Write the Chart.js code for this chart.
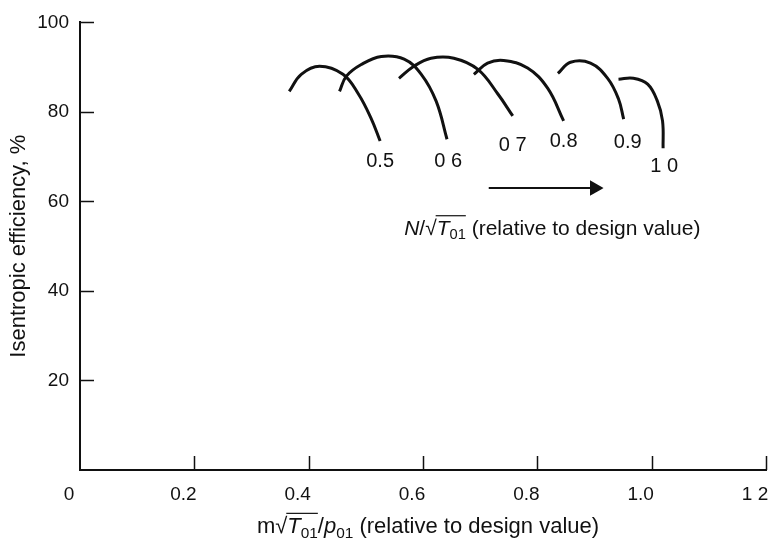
<!DOCTYPE html>
<html>
<head>
<meta charset="utf-8">
<script src="https://cdn.jsdelivr.net/npm/chart.js@4.4.1/dist/chart.umd.min.js"></script>
<style>
  html, body { margin: 0; padding: 0; background: #fff; }
  #wrap { width: 782px; height: 554px; }
</style>
</head>
<body>
<div id="wrap"><canvas id="myChart"></canvas></div>
<script>
// speed lines (x = mass flow rel. design, y = efficiency %)
let speedLabels = ['0.5', '0 6', '0 7', '0.8', '0.9', '1 0'];
let flow05 = [0.366, 0.387, 0.419, 0.460, 0.487, 0.509, 0.525];
let eff05  = [84.6, 88.4, 90.2, 88.4, 84.0, 78.6, 73.5];
let flow06 = [0.454, 0.466, 0.492, 0.527, 0.567, 0.597, 0.623, 0.642];
let eff06  = [84.6, 88.0, 90.6, 92.4, 91.8, 88.4, 82.4, 73.9];
let flow07 = [0.558, 0.584, 0.614, 0.654, 0.696, 0.731, 0.757];
let eff07  = [87.5, 90.2, 92.0, 92.0, 89.5, 84.0, 79.1];
let flow08 = [0.689, 0.713, 0.741, 0.783, 0.818, 0.846];
let eff08  = [88.4, 90.9, 91.5, 89.8, 85.3, 78.0];
let flow09 = [0.836, 0.858, 0.893, 0.923, 0.942, 0.951];
let eff09  = [88.6, 91.1, 90.9, 87.5, 82.9, 78.4];
let flow10 = [0.942, 0.968, 0.993, 1.010, 1.019, 1.020];
let eff10  = [87.3, 87.5, 86.2, 82.4, 78.0, 71.9];

let labelX = [0.525, 0.644, 0.757, 0.846, 0.958, 1.022];
let labelY = [69.0, 69.0, 72.4, 73.5, 73.1, 67.8];

let arrowX = [0.715, 0.900];
let arrowY = [63, 63];

let xTicks = [0, 0.2, 0.4, 0.6, 0.8, 1.0, 1.2];
let xTickLabels = ['0', '0.2', '0.4', '0.6', '0.8', '1.0', '1 2'];
let yTicks = [20, 40, 60, 80, 100];

let FONT = '"Liberation Sans", Arial, Helvetica, sans-serif';
let INK = '#111';

function pts(xs, ys) {
	let out = [];
	for (let i = 0; i < xs.length; i++) out.push({ x: xs[i], y: ys[i] });
	return out;
}

function curve(xs, ys) {
	return {
		data: pts(xs, ys),
		borderColor: INK,
		borderWidth: 3,
		pointRadius: 0,
		tension: 0.4,
		fill: false
	};
}

// text made of pieces: italic, subscript, overline (for the root sign)
function richText(ctx, parts, x, y, size, align) {
	let widths = [];
	let total = 0;
	for (let p of parts) {
		let s = p.sub ? size * 0.7 : size;
		ctx.font = (p.it ? 'italic ' : '') + s + 'px ' + FONT;
		let w = ctx.measureText(p.t).width;
		widths.push(w);
		total += w;
	}
	let cx = align == 'center' ? x - total / 2 : x;
	let overStart = null, overEnd = null;
	ctx.fillStyle = INK;
	ctx.textBaseline = 'middle';
	ctx.textAlign = 'left';
	for (let i = 0; i < parts.length; i++) {
		let p = parts[i];
		let s = p.sub ? size * 0.7 : size;
		ctx.font = (p.it ? 'italic ' : '') + s + 'px ' + FONT;
		ctx.fillText(p.t, cx, p.sub ? y + size * 0.3 : y);
		if (p.over) {
			if (overStart === null) overStart = cx;
			overEnd = cx + widths[i];
		}
		cx += widths[i];
	}
	if (overStart !== null) {
		ctx.strokeStyle = INK;
		ctx.lineWidth = 1.2;
		ctx.beginPath();
		ctx.moveTo(overStart - 1, y - size * 0.62);
		ctx.lineTo(overEnd, y - size * 0.62);
		ctx.stroke();
	}
}

let extras = {
	id: 'extras',
	afterDraw: function (chart) {
		let ctx = chart.ctx;
		let xs = chart.scales.x, ys = chart.scales.y;
		let area = chart.chartArea;
		ctx.save();
		// inward tick marks
		ctx.strokeStyle = INK;
		ctx.lineWidth = 1.5;
		ctx.beginPath();
		for (let v of yTicks) {
			let py = Math.round(ys.getPixelForValue(v)) + 0.5;
			ctx.moveTo(area.left, py);
			ctx.lineTo(area.left + 14, py);
		}
		for (let v of xTicks.slice(1)) {
			let px = Math.round(xs.getPixelForValue(v)) + 0.5;
			ctx.moveTo(px, area.bottom);
			ctx.lineTo(px, area.bottom - 14);
		}
		ctx.stroke();

		// speed labels
		ctx.fillStyle = INK;
		ctx.font = '20px ' + FONT;
		ctx.textAlign = 'center';
		ctx.textBaseline = 'middle';
		for (let i = 0; i < speedLabels.length; i++) {
			ctx.fillText(speedLabels[i], xs.getPixelForValue(labelX[i]), ys.getPixelForValue(labelY[i]));
		}

		// annotation under the arrow
		richText(ctx, [
			{ t: 'N', it: true },
			{ t: '/\u221A' },
			{ t: 'T', it: true, over: true },
			{ t: '01', sub: true, over: true },
			{ t: ' (relative to design value)' }
		], xs.getPixelForValue(0.567), ys.getPixelForValue(53.9), 21, 'left');

		// x axis title
		richText(ctx, [
			{ t: 'm\u221A' },
			{ t: 'T', it: true, over: true },
			{ t: '01', sub: true, over: true },
			{ t: '/' },
			{ t: 'p', it: true },
			{ t: '01', sub: true },
			{ t: ' (relative to design value)' }
		], 428, 527, 22, 'center');
		ctx.restore();
	}
};

let datasets = [
	curve(flow05, eff05),
	curve(flow06, eff06),
	curve(flow07, eff07),
	curve(flow08, eff08),
	curve(flow09, eff09),
	curve(flow10, eff10),
	{
		data: pts(arrowX, arrowY),
		borderColor: INK,
		backgroundColor: INK,
		borderWidth: 2,
		pointStyle: 'triangle',
		pointRadius: [0, 7],
		pointRotation: [0, 90],
		tension: 0
	}
];

let ctx = document.getElementById('myChart').getContext('2d');
let chart = new Chart(ctx, {
	type: 'line',
	data: { datasets: datasets },
	options: {
		responsive: true,
		maintainAspectRatio: false,
		animation: false,
		events: [],
		layout: { padding: { top: 21, right: 16, left: 0, bottom: 0 } },
		plugins: { legend: { display: false }, tooltip: { enabled: false } },
		scales: {
			x: {
				type: 'linear',
				min: 0,
				max: 1.2,
				afterBuildTicks: function (s) { s.ticks = xTicks.map(v => ({ value: v })); },
				afterFit: function (s) { s.height = 84; s.paddingRight = 0; s.paddingLeft = 0; },
				grid: { drawOnChartArea: false, drawTicks: false },
				border: { display: true, color: INK, width: 2 },
				ticks: {
					padding: 13,
					labelOffset: -11,
					color: INK,
					font: { family: FONT, size: 19 },
					callback: function (v) { return xTickLabels[xTicks.indexOf(Math.round(v * 10) / 10)]; }
				}
			},
			y: {
				type: 'linear',
				min: 0,
				max: 100,
				afterBuildTicks: function (s) { s.ticks = yTicks.map(v => ({ value: v })); },
				afterFit: function (s) { s.width = 80; },
				grid: { drawOnChartArea: false, drawTicks: false },
				border: { display: true, color: INK, width: 2 },
				ticks: {
					padding: 11,
					color: INK,
					font: { family: FONT, size: 19 }
				},
				title: {
					display: true,
					text: 'Isentropic efficiency, %',
					color: INK,
					font: { family: FONT, size: 22 },
					padding: { top: 6, bottom: 0 }
				}
			}
		}
	},
	plugins: [extras]
});
</script>
</body>
</html>
